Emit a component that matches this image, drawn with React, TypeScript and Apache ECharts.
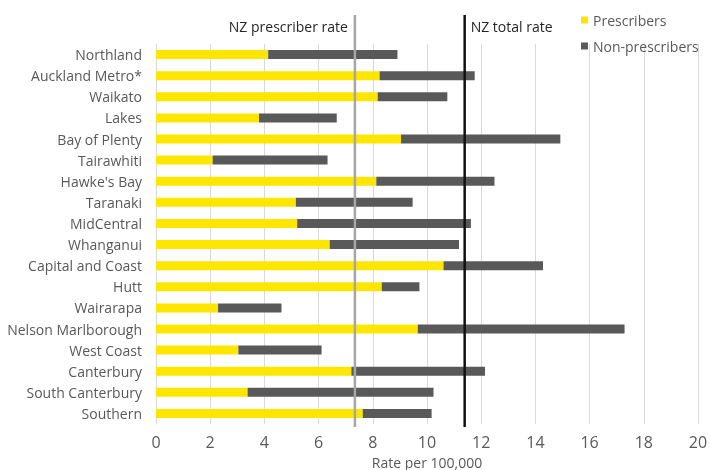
import React, { useEffect, useRef } from "react";
import * as echarts from "echarts";

const categories = [
  "Northland", "Auckland Metro*", "Waikato", "Lakes", "Bay of Plenty", "Tairawhiti",
  "Hawke's Bay", "Taranaki", "MidCentral", "Whanganui", "Capital and Coast", "Hutt",
  "Wairarapa", "Nelson Marlborough", "West Coast", "Canterbury", "South Canterbury", "Southern",
];
const prescribers = [4.14, 8.25, 8.18, 3.8, 9.04, 2.09, 8.13, 5.16, 5.21, 6.41, 10.61, 8.33, 2.29, 9.66, 3.04, 7.21, 3.38, 7.63];
const nonPrescribers = [4.77, 3.51, 2.57, 2.87, 5.88, 4.24, 4.36, 4.31, 6.41, 4.77, 3.67, 1.39, 2.34, 7.63, 3.07, 4.93, 6.86, 2.54];
const nzPrescriberRate = 7.34;
const nzTotalRate = 11.39;
const xTicks = { min: 0, max: 20, interval: 2 };

const FONT = "'Open Sans', sans-serif";
const GRID_TOP = 44;
const GRID_BOTTOM_PX = 424;

export default function App() {
  const ref = useRef<HTMLDivElement>(null);
  useEffect(() => {
    if (!ref.current) return;
    const chart = echarts.init(ref.current, undefined, { renderer: "svg" });
    chart.setOption({
      animation: false,
      textStyle: { fontFamily: FONT },
      grid: {
        left: 156,
        right: 12,
        top: GRID_TOP,
        bottom: 470 - GRID_BOTTOM_PX,
        containLabel: false,
        outerBoundsMode: "none",
      },
      legend: {
        orient: "vertical",
        left: 576,
        top: 8,
        itemWidth: 7,
        itemHeight: 7,
        itemGap: 12,
        icon: "rect",
        textStyle: { color: "#595959", fontSize: 14, fontFamily: FONT },
        data: ["Prescribers", "Non-prescribers"],
      },
      xAxis: {
        type: "value",
        min: xTicks.min,
        max: xTicks.max,
        interval: xTicks.interval,
        name: "Rate per 100,000",
        nameLocation: "middle",
        nameGap: 31,
        nameTextStyle: { color: "#595959", fontSize: 14, fontFamily: FONT },
        axisLine: { show: false },
        axisTick: { show: false },
        axisLabel: { color: "#595959", fontSize: 16, margin: 10, fontFamily: FONT },
        splitLine: { lineStyle: { color: "#d9d9d9", width: 1 } },
      },
      yAxis: {
        type: "category",
        inverse: true,
        data: categories,
        axisLine: { show: true, lineStyle: { color: "#d9d9d9", width: 1 } },
        axisTick: { show: false },
        axisLabel: { color: "#595959", fontSize: 14, margin: 14, fontFamily: FONT },
      },
      series: [
        { name: "Prescribers", type: "bar", stack: "total", barWidth: 9, itemStyle: { color: "#FFE600" }, data: prescribers },
        { name: "Non-prescribers", type: "bar", stack: "total", barWidth: 9, itemStyle: { color: "#595959" }, data: nonPrescribers },
      ],
    });
    const xp = chart.convertToPixel({ xAxisIndex: 0 }, nzPrescriberRate) as number;
    const xt = chart.convertToPixel({ xAxisIndex: 0 }, nzTotalRate) as number;
    chart.setOption({
      graphic: [
        { type: "line", shape: { x1: xp, y1: 15, x2: xp, y2: GRID_BOTTOM_PX + 3 }, style: { stroke: "#A6A6A6", lineWidth: 2.5 }, z: 10 },
        { type: "line", shape: { x1: xt, y1: 15, x2: xt, y2: GRID_BOTTOM_PX + 3 }, style: { stroke: "#111111", lineWidth: 2.5 }, z: 10 },
        { type: "text", x: xp - 7, y: 26, style: { text: "NZ prescriber rate", fill: "#262626", fontSize: 14, fontFamily: FONT, align: "right", verticalAlign: "middle" }, z: 10 },
        { type: "text", x: xt + 6, y: 26, style: { text: "NZ total rate", fill: "#262626", fontSize: 14, fontFamily: FONT, align: "left", verticalAlign: "middle" }, z: 10 },
      ],
    });
    return () => chart.dispose();
  }, []);
  return <div ref={ref} style={{ position: "fixed", left: 0, top: 0, width: 710, height: 470 }} />;
}
